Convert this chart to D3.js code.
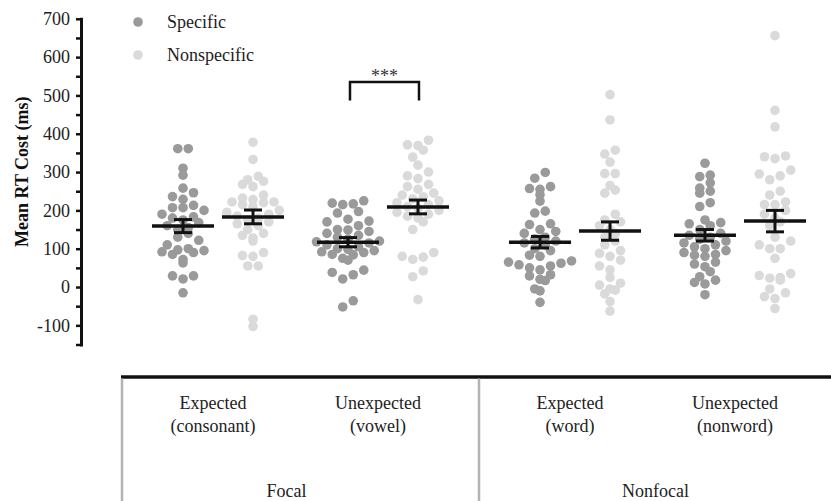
<!DOCTYPE html>
<html>
<head>
<meta charset="utf-8">
<script src="https://cdn.jsdelivr.net/npm/d3@7"></script>
<style>
  html, body { margin: 0; padding: 0; background: #fff; }
  svg { display: block; font-family: "Liberation Serif", "Times New Roman", serif; }
</style>
</head>
<body>
<div id="chart"></div>
<script>
// --- datos ---
const groups = ["Focal", "Nonfocal"];
const conditions = [
  { key: "fe", group: "Focal", label: ["Expected", "(consonant)"] },
  { key: "fu", group: "Focal", label: ["Unexpected", "(vowel)"] },
  { key: "ne", group: "Nonfocal", label: ["Expected", "(word)"] },
  { key: "nu", group: "Nonfocal", label: ["Unexpected", "(nonword)"] }
];
const seriesNames = ["Specific", "Nonspecific"];

const specificVals = [
  [361, 361, 310, 292, 258, 246, 236, 229, 213, 207, 207, 200, 190, 183, 180, 175, 168, 160, 155, 150, 140, 130, 122, 110, 100, 97, 95, 92, 90, 85, 72, 63, 29, 21, 29, -15],
  [225, 219, 217, 215, 197, 193, 177, 172, 170, 160, 150, 149, 145, 140, 135, 130, 125, 120, 118, 115, 110, 105, 100, 98, 95, 92, 90, 85, 84, 75, 70, 44, 32, 21, 38, -36, -52],
  [299, 284, 262, 257, 255, 241, 224, 198, 193, 165, 163, 150, 145, 140, 130, 125, 120, 115, 110, 100, 95, 83, 80, 68, 65, 62, 58, 55, 50, 45, 32, 29, 20, 17, -5, -10, -40],
  [323, 292, 288, 272, 258, 250, 245, 220, 210, 175, 168, 165, 160, 150, 140, 135, 130, 125, 120, 115, 110, 105, 100, 95, 90, 85, 83, 80, 65, 60, 53, 40, 27, 18, 12, 8, -20]
];
const nonspecificVals = [
  [378, 333, 289, 280, 276, 268, 262, 240, 232, 228, 222, 222, 220, 215, 210, 200, 195, 190, 185, 180, 175, 170, 165, 160, 150, 140, 135, 128, 120, 90, 82, 80, 55, 55, -84, -103],
  [383, 371, 369, 357, 339, 318, 300, 290, 283, 268, 262, 255, 245, 240, 235, 230, 225, 220, 215, 210, 205, 200, 195, 190, 185, 180, 170, 150, 90, 80, 78, 72, 42, 27, -33],
  [502, 436, 357, 347, 326, 296, 296, 265, 253, 245, 190, 175, 170, 160, 150, 140, 130, 120, 110, 95, 88, 80, 70, 55, 45, 25, 10, 5, -5, -8, -18, -38, -63],
  [656, 461, 418, 342, 340, 335, 305, 295, 290, 280, 250, 240, 222, 215, 215, 200, 190, 180, 170, 160, 130, 120, 110, 100, 100, 75, 35, 30, 25, 23, 18, -5, -15, -25, -30, -56]
];

// media y error estándar mostrados
const specificMean = [159, 117, 117, 135];
const specificSE = [17, 12, 15, 15];
const nonspecificMean = [183, 209, 146, 172];
const nonspecificSE = [18, 18, 24, 28];

const yMajorTicks = [-100, 0, 100, 200, 300, 400, 500, 600, 700];
const yMinorTicks = [-150, -50, 50, 150, 250, 350, 450, 550, 650];
const yTitle = "Mean RT Cost (ms)";
const sigLabel = "***";
const sigCondition = "fu";

// --- tamaño ---
const width = 831, height = 501;
const colors = { Specific: "#9a9a9a", Nonspecific: "#dadada" };
const dotR = 4.8;

const svg = d3.select("#chart").append("svg")
  .attr("width", width)
  .attr("height", height);

const y = d3.scaleLinear().domain([-150, 700]).range([344.5, 18.8]);

const xGroup = d3.scaleBand().domain(groups).range([122, 836]);
const xCond = d3.scalePoint().domain(["Expected", "Unexpected"])
  .range([0, xGroup.bandwidth()]).padding(0.582);
const xSeries = d3.scalePoint().domain(seriesNames).range([-35, 35]);

function condCenter(i) {
  const c = conditions[i];
  return xGroup(c.group) + xCond(i % 2 === 0 ? "Expected" : "Unexpected");
}

// Dispersión por filas (estilo Prism): agrupa por franjas de valor y
// reparte los puntos de cada franja en horizontal, centrados
function rows(values, step, binH) {
  const bins = d3.group(values.map(v => ({ v, y: y(v) })), d => Math.floor(d.y / binH));
  const out = [];
  bins.forEach(pts => {
    pts.sort((a, b) => a.v - b.v);
    const n = pts.length;
    // orden centro-afuera para que la fila quede equilibrada
    const offsets = d3.range(n).map(k => (k - (n - 1) / 2) * step);
    const order = d3.range(n).sort((a, b) => Math.abs(offsets[a]) - Math.abs(offsets[b]));
    pts.forEach((p, k) => { p.dx = offsets[order[k]]; out.push(p); });
  });
  return out;
}

// --- eje Y ---
const yAxis = svg.append("g")
  .attr("transform", "translate(81,0)")
  .call(d3.axisLeft(y).tickValues(yMajorTicks).tickSize(5).tickSizeOuter(0).tickPadding(6)
    .tickFormat(d => String(d)));
yAxis.select(".domain").attr("stroke", "#111").attr("stroke-width", 3).attr("stroke-linecap", "square");
yAxis.selectAll(".tick line").attr("stroke", "#111").attr("stroke-width", 2.5);
yAxis.selectAll(".tick text")
  .attr("font-family", "Liberation Serif, Times New Roman, serif")
  .attr("font-size", 18).attr("fill", "#222");

const yMinor = svg.append("g")
  .attr("transform", "translate(81,0)")
  .call(d3.axisLeft(y).tickValues(yMinorTicks).tickSize(5).tickSizeOuter(0).tickFormat(""));
yMinor.select(".domain").remove();
yMinor.selectAll(".tick line").attr("stroke", "#111").attr("stroke-width", 2.5);

svg.append("text")
  .attr("transform", `translate(28,${(y(700) + y(-150)) / 2 - 10}) rotate(-90)`)
  .attr("text-anchor", "middle")
  .attr("font-size", 18)
  .attr("font-weight", "bold")
  .attr("fill", "#111")
  .text(yTitle);

// --- puntos ---
const seriesData = [
  { name: "Specific", vals: specificVals, mean: specificMean, se: specificSE },
  { name: "Nonspecific", vals: nonspecificVals, mean: nonspecificMean, se: nonspecificSE }
];

const dotsG = svg.append("g");
seriesData.forEach(s => {
  s.vals.forEach((vals, i) => {
    const cx = condCenter(i) + xSeries(s.name);
    const pts = rows(vals, 10.5, 10);
    dotsG.selectAll(null)
      .data(pts)
      .join("circle")
      .attr("cx", d => cx + d.dx)
      .attr("cy", d => d.y)
      .attr("r", dotR)
      .attr("fill", colors[s.name]);
  });
});

// --- media y error estándar ---
const statsG = svg.append("g").attr("stroke", "#111").attr("stroke-linecap", "butt");
seriesData.forEach(s => {
  s.mean.forEach((m, i) => {
    const cx = condCenter(i) + xSeries(s.name);
    const se = s.se[i];
    statsG.append("line")
      .attr("x1", cx - 31).attr("x2", cx + 31)
      .attr("y1", y(m)).attr("y2", y(m))
      .attr("stroke-width", 3.5);
    statsG.append("line")
      .attr("x1", cx).attr("x2", cx)
      .attr("y1", y(m + se)).attr("y2", y(m - se))
      .attr("stroke-width", 3);
    [m + se, m - se].forEach(v => {
      statsG.append("line")
        .attr("x1", cx - 9).attr("x2", cx + 9)
        .attr("y1", y(v)).attr("y2", y(v))
        .attr("stroke-width", 3);
    });
  });
});

// --- significancia ---
const sigIdx = conditions.findIndex(c => c.key === sigCondition);
const bx1 = condCenter(sigIdx) + xSeries("Specific") + 2;
const bx2 = condCenter(sigIdx) + xSeries("Nonspecific") + 1;
svg.append("path")
  .attr("d", `M${bx1},${y(500) + 5}V${y(535)}H${bx2}V${y(500) + 5}`)
  .attr("fill", "none")
  .attr("stroke", "#111")
  .attr("stroke-width", 2.5);
svg.append("text")
  .attr("x", (bx1 + bx2) / 2)
  .attr("y", y(535) - 0)
  .attr("text-anchor", "middle")
  .attr("font-size", 18)
  .attr("fill", "#333")
  .text(sigLabel);

// --- leyenda ---
const legend = svg.append("g");
seriesNames.forEach((name, i) => {
  const ly = 22 + i * 33;
  legend.append("circle").attr("cx", 138).attr("cy", ly).attr("r", dotR).attr("fill", colors[name]);
  legend.append("text").attr("x", 167).attr("y", ly + 6)
    .attr("font-size", 18).attr("fill", "#222").text(name);
});

// --- eje X por grupos ---
const baseY = 377;
svg.append("line")
  .attr("x1", xGroup.range()[0] - 1).attr("x2", width)
  .attr("y1", baseY).attr("y2", baseY)
  .attr("stroke", "#111").attr("stroke-width", 3.5);

groups.forEach(g => {
  svg.append("line")
    .attr("x1", xGroup(g)).attr("x2", xGroup(g))
    .attr("y1", baseY + 1.5).attr("y2", height)
    .attr("stroke", "#b3b3b3").attr("stroke-width", 2.5);
});

conditions.forEach((c, i) => {
  const t = svg.append("text")
    .attr("text-anchor", "middle")
    .attr("font-size", 18)
    .attr("fill", "#222");
  c.label.forEach((line, j) => {
    t.append("tspan")
      .attr("x", condCenter(i) - 5)
      .attr("y", 409 + j * 23)
      .text(line);
  });
});

groups.forEach(g => {
  svg.append("text")
    .attr("x", xGroup(g) + xGroup.bandwidth() / 2 - (g === "Focal" ? 14 : 2))
    .attr("y", 497)
    .attr("text-anchor", "middle")
    .attr("font-size", 18)
    .attr("fill", "#222")
    .text(g);
});
</script>
</body>
</html>
